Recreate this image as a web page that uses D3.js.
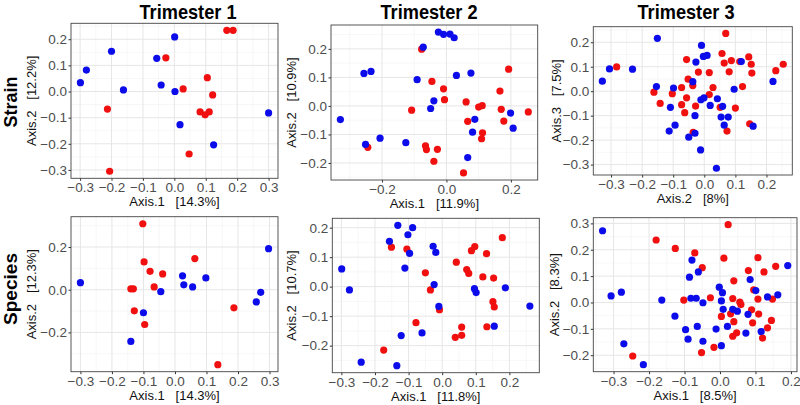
<!DOCTYPE html>
<html><head><meta charset="utf-8">
<script src="https://cdn.jsdelivr.net/npm/d3@7"></script>
<style>
body{margin:0;background:#fff}
svg{display:block}
text{font-family:'Liberation Sans',Arial,Helvetica,sans-serif}
</style>
</head><body><svg id="chart" width="800" height="405"></svg>
<script>
// ---------- DATA ----------
const columnTitles = ["Trimester 1", "Trimester 2", "Trimester 3"];
const rowTitles = ["Strain", "Species"];
const xAxisTitles = ["Axis.1   [14.3%]", "Axis.1   [11.9%]", "Axis.2   [8%]",
                     "Axis.1   [14.3%]", "Axis.1   [11.8%]", "Axis.1   [8.5%]"];
const yAxisTitles = ["Axis.2   [12.2%]", "Axis.2   [10.9%]", "Axis.3   [7.5%]",
                     "Axis.2   [12.3%]", "Axis.2   [10.7%]", "Axis.2   [8.3%]"];
const xTickValues = [
  [-0.3, -0.2, -0.1, 0.0, 0.1, 0.2, 0.3],
  [-0.2, 0.0, 0.2],
  [-0.3, -0.2, -0.1, 0.0, 0.1, 0.2],
  [-0.3, -0.2, -0.1, 0.0, 0.1, 0.2, 0.3],
  [-0.3, -0.2, -0.1, 0.0, 0.1, 0.2],
  [-0.3, -0.2, -0.1, 0.0, 0.1, 0.2]
];
const yTickValues = [
  [-0.3, -0.2, -0.1, 0.0, 0.1, 0.2],
  [-0.2, -0.1, 0.0, 0.1, 0.2],
  [-0.3, -0.2, -0.1, 0.0, 0.1, 0.2],
  [-0.2, 0.0, 0.2],
  [-0.2, -0.1, 0.0, 0.1, 0.2],
  [-0.2, -0.1, 0.0, 0.1, 0.2, 0.3]
];
const groupColors = ["#f01010", "#0c0ceb"]; // red group, blue group

const strainT1Red = [[0.167,0.234],[0.187,0.234],[-0.027,0.129],[0.105,0.053],[0.028,0.010],[0.122,-0.013],[-0.213,-0.067],[0.082,-0.078],[0.098,-0.089],[0.111,-0.078],[0.047,-0.239],[-0.206,-0.305]];
const strainT1Blue = [[0.001,0.209],[-0.200,0.154],[-0.056,0.127],[-0.280,0.082],[-0.299,0.034],[-0.162,0.006],[-0.042,0.025],[0.002,0.000],[0.018,-0.127],[0.125,-0.204],[0.300,-0.082]];

const strainT2Red = [[-0.077,0.199],[-0.045,0.086],[-0.009,0.060],[-0.006,0.022],[-0.108,-0.015],[0.061,0.014],[0.066,-0.054],[0.100,-0.004],[0.111,0.001],[0.193,0.129],[0.166,0.052],[0.170,-0.012],[0.178,-0.053],[0.254,-0.021],[0.112,-0.094],[0.109,-0.115],[-0.244,-0.145],[-0.065,-0.140],[-0.062,-0.153],[-0.028,-0.152],[-0.039,-0.194],[0.053,-0.235]];
const strainT2Blue = [[-0.025,0.259],[-0.009,0.251],[0.011,0.252],[0.024,0.239],[-0.072,0.206],[-0.256,0.114],[-0.234,0.121],[-0.091,0.092],[0.031,0.107],[0.076,0.115],[-0.039,0.018],[-0.049,-0.009],[-0.329,-0.048],[-0.251,-0.135],[-0.206,-0.113],[-0.126,-0.129],[0.088,-0.047],[0.081,-0.092],[0.066,-0.181],[0.199,-0.025],[0.207,-0.078]];

const strainT3Red = [[0.069,0.236],[-0.282,0.099],[-0.057,0.129],[0.057,0.154],[0.064,0.115],[0.087,0.125],[0.114,0.121],[0.143,0.140],[0.151,0.110],[0.254,0.110],[0.230,0.084],[0.153,0.074],[0.080,0.079],[0.016,0.076],[-0.019,0.078],[-0.052,0.049],[-0.037,0.023],[-0.073,0.015],[0.028,0.015],[0.123,0.019],[-0.162,-0.004],[-0.103,-0.010],[0.016,-0.014],[-0.057,-0.027],[-0.142,-0.050],[-0.073,-0.055],[-0.063,-0.088],[-0.028,-0.061],[0.051,-0.066],[0.100,-0.069],[0.073,-0.163],[-0.036,-0.168],[0.146,-0.133]];
const strainT3Blue = [[-0.151,0.216],[-0.305,0.091],[-0.328,0.041],[-0.231,0.090],[-0.009,0.187],[-0.003,0.142],[0.009,0.146],[-0.027,0.119],[-0.154,0.019],[-0.099,0.013],[-0.109,-0.066],[-0.037,0.039],[-0.011,-0.035],[-0.001,-0.027],[0.019,-0.058],[0.042,-0.031],[0.059,-0.062],[0.054,-0.106],[0.077,-0.106],[0.064,-0.139],[0.096,0.008],[0.119,0.121],[-0.094,-0.139],[-0.113,-0.163],[-0.050,-0.188],[-0.030,-0.172],[-0.030,-0.100],[-0.012,-0.240],[0.039,-0.315],[0.157,-0.143],[0.221,0.040]];

const speciesT1Red = [[-0.102,0.309],[-0.098,0.130],[0.063,0.146],[-0.079,0.086],[-0.039,0.074],[-0.066,0.013],[-0.140,0.004],[-0.132,0.004],[-0.129,-0.099],[-0.096,-0.163],[0.187,-0.085],[0.136,-0.351]];
const speciesT1Blue = [[-0.300,0.033],[0.297,0.192],[0.024,0.065],[0.028,0.023],[0.056,0.013],[0.098,0.055],[-0.045,-0.009],[0.272,-0.012],[0.258,-0.057],[-0.100,-0.108],[-0.140,-0.242]];

const speciesT2Red = [[0.179,0.166],[0.097,0.136],[0.087,0.122],[0.132,0.112],[-0.151,0.134],[-0.105,0.127],[0.042,0.083],[0.073,0.058],[0.079,0.045],[0.121,0.033],[0.153,0.029],[-0.050,0.047],[-0.035,-0.011],[-0.008,-0.078],[0.151,-0.051],[0.155,-0.069],[0.133,-0.136],[-0.078,-0.122],[0.058,-0.137],[0.039,-0.172],[0.058,-0.165],[-0.174,-0.215]];
const speciesT2Blue = [[-0.132,0.208],[-0.088,0.200],[-0.102,0.176],[-0.157,0.154],[-0.097,0.113],[-0.027,0.137],[-0.019,0.116],[-0.111,0.063],[-0.299,0.060],[-0.276,-0.011],[-0.024,0.007],[0.096,-0.007],[0.101,-0.020],[0.188,-0.004],[-0.010,-0.067],[0.261,-0.066],[-0.060,-0.157],[-0.122,-0.166],[0.155,-0.134],[-0.241,-0.256],[-0.135,-0.268]];

const speciesT3Red = [[0.023,0.295],[-0.180,0.237],[-0.126,0.205],[-0.071,0.188],[-0.050,0.132],[0.011,0.168],[0.107,0.170],[0.080,0.121],[0.124,0.116],[0.157,0.137],[0.039,0.082],[0.095,0.048],[-0.027,0.018],[-0.102,0.009],[0.036,0.015],[0.056,0.001],[0.059,-0.008],[0.107,0.013],[0.148,0.013],[0.004,-0.053],[0.030,-0.043],[0.039,-0.073],[0.047,-0.115],[0.036,-0.128],[0.089,-0.028],[0.109,-0.044],[0.092,-0.077],[0.145,-0.068],[0.134,-0.096],[0.120,-0.135],[-0.017,-0.170],[-0.052,-0.190],[-0.246,-0.203]];
const speciesT3Blue = [[-0.331,0.272],[-0.307,0.025],[-0.278,0.039],[-0.271,-0.157],[-0.216,-0.236],[-0.164,0.009],[-0.127,-0.052],[-0.079,0.161],[-0.086,0.096],[-0.061,0.116],[-0.082,0.016],[-0.067,0.016],[-0.048,-0.001],[-0.097,-0.103],[-0.090,-0.139],[-0.064,-0.091],[-0.048,-0.147],[-0.011,-0.101],[-0.002,0.058],[0.007,0.037],[0.004,0.006],[0.009,-0.026],[0.036,-0.026],[0.049,-0.033],[0.021,-0.091],[0.004,-0.164],[0.085,0.087],[0.079,-0.045],[0.073,-0.116],[0.116,-0.110],[0.134,0.021],[0.163,0.029],[0.191,0.140],[0.101,0.045]];

const panelSeries = [
  [strainT1Red, strainT1Blue], [strainT2Red, strainT2Blue], [strainT3Red, strainT3Blue],
  [speciesT1Red, speciesT1Blue], [speciesT2Red, speciesT2Blue], [speciesT3Red, speciesT3Blue]
];

// ---------- LAYOUT ----------
const frames = [
  {x0:71,    x1:278,   y0:23.3,  y1:178.3},
  {x0:331,   x1:537.7, y0:25,    y1:180},
  {x0:593.3, x1:792.3, y0:26.7,  y1:175},
  {x0:71,    x1:278,   y0:216.7, y1:371.7},
  {x0:332.3, x1:539.3, y0:218.3, y1:372.7},
  {x0:593.3, x1:797,   y0:217.7, y1:371.7}
];
const yTitleX = [36, 296, 561, 36, 296, 559];
const colTitleX = [188, 429, 686];
const rowTitleY = [102, 289];

const svg = d3.select("#chart");
const fmt = d3.format(".1f");

function expand(ext) {
  const r = ext[1] - ext[0];
  return [ext[0] - 0.05 * r, ext[1] + 0.05 * r];
}

panelSeries.forEach((series, i) => {
  const f = frames[i];
  const all = series[0].concat(series[1]);
  const x = d3.scaleLinear().domain(expand(d3.extent(all, d => d[0]))).range([f.x0, f.x1]);
  const y = d3.scaleLinear().domain(expand(d3.extent(all, d => d[1]))).range([f.y1, f.y0]);
  const g = svg.append("g");

  g.append("rect").attr("x", f.x0).attr("y", f.y0)
    .attr("width", f.x1 - f.x0).attr("height", f.y1 - f.y0).attr("fill", "#fff");

  function minors(ticks, dom) {
    const step = ticks[1] - ticks[0];
    const out = [];
    for (let v = ticks[0] - step * 1.5; v <= ticks[ticks.length - 1] + step * 1.5 + 1e-9; v += step) {
      if (v >= dom[0] && v <= dom[1]) out.push(v);
    }
    return out;
  }
  const xt = xTickValues[i], yt = yTickValues[i];
  const xMin = minors(xt, x.domain()), yMin = minors(yt, y.domain());

  // minor grid
  g.selectAll(null).data(xMin).join("line")
    .attr("x1", d => x(d)).attr("x2", d => x(d)).attr("y1", f.y0).attr("y2", f.y1)
    .attr("stroke", "#f2f2f2").attr("stroke-width", 0.6);
  g.selectAll(null).data(yMin).join("line")
    .attr("y1", d => y(d)).attr("y2", d => y(d)).attr("x1", f.x0).attr("x2", f.x1)
    .attr("stroke", "#f2f2f2").attr("stroke-width", 0.6);
  // major grid
  g.selectAll(null).data(xt).join("line")
    .attr("x1", d => x(d)).attr("x2", d => x(d)).attr("y1", f.y0).attr("y2", f.y1)
    .attr("stroke", "#e6e6e6").attr("stroke-width", 1);
  g.selectAll(null).data(yt).join("line")
    .attr("y1", d => y(d)).attr("y2", d => y(d)).attr("x1", f.x0).attr("x2", f.x1)
    .attr("stroke", "#e6e6e6").attr("stroke-width", 1);

  // axes
  const xAxis = d3.axisBottom(x).tickValues(xt).tickFormat(fmt).tickSize(2.5).tickPadding(2);
  const yAxis = d3.axisLeft(y).tickValues(yt).tickFormat(fmt).tickSize(2.5).tickPadding(1.5);
  const gx = g.append("g").attr("transform", `translate(0,${f.y1})`).call(xAxis);
  const gy = g.append("g").attr("transform", `translate(${f.x0},0)`).call(yAxis);
  [gx, gy].forEach(a => {
    a.select(".domain").remove();
    a.selectAll(".tick line").attr("stroke", "#333");
    a.selectAll(".tick text").attr("fill", "#4d4d4d").style("font-size", "13.5px")
      .style("font-family", "'Liberation Sans',Arial,sans-serif");
  });

  // points
  series.forEach((pts, k) => {
    g.selectAll(null).data(pts).join("circle")
      .attr("cx", d => x(d[0])).attr("cy", d => y(d[1])).attr("r", 3.6)
      .attr("fill", groupColors[k]);
  });

  // frame
  g.append("rect").attr("x", f.x0).attr("y", f.y0)
    .attr("width", f.x1 - f.x0).attr("height", f.y1 - f.y0)
    .attr("fill", "none").attr("stroke", "#444").attr("stroke-width", 0.9);

  // axis titles
  g.append("text").attr("x", (f.x0 + f.x1) / 2).attr("y", f.y1 + 28)
    .attr("text-anchor", "middle").style("font-size", "13px").style("white-space", "pre")
    .attr("fill", "#111").text(xAxisTitles[i]);
  g.append("text")
    .attr("transform", `translate(${yTitleX[i]},${(f.y0 + f.y1) / 2}) rotate(-90)`)
    .attr("text-anchor", "middle").style("font-size", "13px").style("white-space", "pre")
    .attr("fill", "#111").text(yAxisTitles[i]);
});

// column titles
svg.selectAll(null).data(columnTitles).join("text")
  .attr("x", (d, i) => colTitleX[i]).attr("y", 19)
  .attr("text-anchor", "middle")
  .style("font-family", "'Liberation Sans Narrow','Liberation Sans',Arial,sans-serif")
  .style("font-weight", "bold").style("font-size", "21px")
  .attr("textLength", 97).attr("lengthAdjust", "spacingAndGlyphs")
  .text(d => d);

// row titles
svg.selectAll(null).data(rowTitles).join("text")
  .attr("transform", (d, i) => `translate(17,${rowTitleY[i]}) rotate(-90)`)
  .attr("text-anchor", "middle")
  .style("font-family", "'Liberation Sans Narrow','Liberation Sans',Arial,sans-serif")
  .style("font-weight", "bold").style("font-size", "19px")
  .attr("textLength", (d, i) => i === 0 ? 51 : 72).attr("lengthAdjust", "spacingAndGlyphs")
  .text(d => d);
</script>
</body></html>
